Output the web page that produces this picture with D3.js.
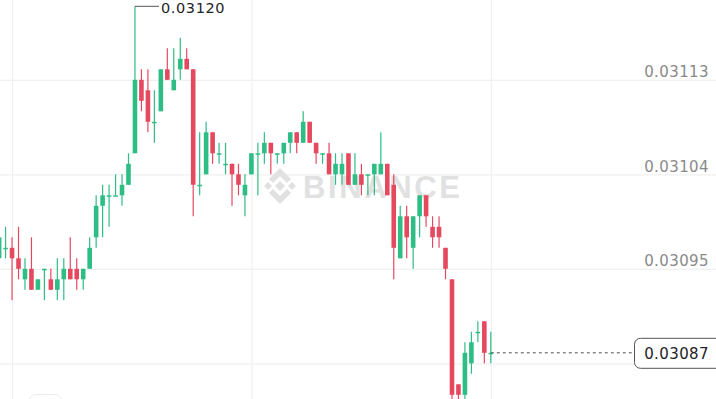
<!DOCTYPE html>
<html>
<head>
<meta charset="utf-8">
<script src="https://cdn.jsdelivr.net/npm/d3@7/dist/d3.min.js"></script>
<style>
  html, body { margin: 0; padding: 0; background: #ffffff; overflow: hidden; }
  svg { display: block; }
</style>
</head>
<body>
<svg id="chart" width="716" height="399"></svg>
<script>
// ---- data (prices) ----
const openP  = [0.03096,0.03097,0.03097,0.03096,0.03094,0.03095,0.03093,0.03095,0.03094,0.03093,
                0.03094,0.03095,0.03095,0.03094,0.03095,0.03098,0.03101,0.03102,0.03102,0.03102,
                0.03103,0.03106,0.03113,0.03112,0.03109,0.03110,0.03114,0.03112,0.03114,0.03115,
                0.03114,0.03103,0.03104,0.03108,0.03106,0.03105,0.03105,0.03104,0.03102,0.03104,
                0.03106,0.03106,0.03107,0.03106,0.03106,0.03107,0.03108,0.03107,0.03109,0.03107,
                0.03106,0.03106,0.03104,0.03104,0.03106,0.03103,0.03104,0.03104,0.03104,0.03104,
                0.03105,0.03103,0.03096,0.03100,0.03097,0.03100,0.03102,0.03099,0.03099,0.03097,
                0.03094,0.03084,0.03083,0.03086,0.03089,0.03090,0.03087];
const highP  = [0.03102,0.03099,0.03098,0.03099,0.03096,0.03098,0.03094,0.03095,0.03095,0.03096,
                0.03096,0.03098,0.03096,0.03095,0.03098,0.03102,0.03103,0.03103,0.03104,0.03104,
                0.03106,0.03120,0.03114,0.03114,0.03112,0.03114,0.03116,0.03116,0.03117,0.03116,
                0.03114,0.03108,0.03109,0.03108,0.03107,0.03107,0.03105,0.03105,0.03104,0.03106,
                0.03107,0.03108,0.03107,0.03106,0.03107,0.03108,0.03108,0.03110,0.03109,0.03107,
                0.03106,0.03107,0.03106,0.03106,0.03106,0.03106,0.03105,0.03104,0.03105,0.03108,
                0.03105,0.03104,0.03101,0.03101,0.03100,0.03102,0.03102,0.03100,0.03100,0.03097,
                0.03094,0.03084,0.03088,0.03089,0.03090,0.03090,0.03089];
const lowP   = [0.03096,0.03096,0.03092,0.03094,0.03093,0.03093,0.03093,0.03092,0.03093,0.03092,
                0.03092,0.03094,0.03093,0.03093,0.03095,0.03097,0.03098,0.03099,0.03102,0.03101,
                0.03103,0.03106,0.03110,0.03108,0.03107,0.03110,0.03113,0.03112,0.03113,0.03114,
                0.03100,0.03102,0.03104,0.03105,0.03105,0.03104,0.03101,0.03102,0.03100,0.03104,
                0.03102,0.03105,0.03104,0.03105,0.03105,0.03106,0.03106,0.03107,0.03107,0.03105,
                0.03105,0.03104,0.03103,0.03103,0.03103,0.03103,0.03102,0.03102,0.03102,0.03104,
                0.03102,0.03094,0.03096,0.03096,0.03095,0.03098,0.03099,0.03097,0.03097,0.03094,
                0.03082,0.03082,0.03082,0.03085,0.03088,0.03086,0.03086];
const closeP = [0.03098,0.03097,0.03096,0.03095,0.03095,0.03093,0.03094,0.03095,0.03093,0.03094,
                0.03095,0.03094,0.03094,0.03095,0.03097,0.03101,0.03102,0.03102,0.03102,0.03103,
                0.03105,0.03113,0.03111,0.03109,0.03109,0.03114,0.03113,0.03113,0.03115,0.03114,
                0.03103,0.03103,0.03108,0.03106,0.03106,0.03105,0.03104,0.03103,0.03103,0.03106,
                0.03106,0.03107,0.03106,0.03106,0.03107,0.03108,0.03107,0.03109,0.03107,0.03106,
                0.03106,0.03104,0.03105,0.03105,0.03103,0.03104,0.03103,0.03104,0.03105,0.03105,
                0.03102,0.03097,0.03100,0.03098,0.03100,0.03102,0.03100,0.03098,0.03098,0.03095,
                0.03083,0.03083,0.03087,0.03088,0.03089,0.03087,0.03087];
const priceTicks = [0.03086, 0.03095, 0.03104, 0.03113];
const timeGridIdx = [2, 39, 76];
const watermarkText = "BINANCE";

const W = 716, H = 399;
const UP = "#2ebd85", DOWN = "#e5495f";
const candles = openP.map((o, i) => ({ i, o, h: highP[i], l: lowP[i], c: closeP[i] }));
const last = candles[candles.length - 1];

const svg = d3.select("#chart");
const x = d3.scaleLinear().domain([0, candles.length - 1]).range([-0.9, 490.8]);
const y = d3.scaleLinear().domain([0.030826, 0.031206]).range([H, 0]);

// horizontal gridlines
svg.append("g").attr("class", "hgrid")
  .call(d3.axisRight(y).tickValues(priceTicks).tickSize(W).tickFormat(""))
  .call(g => g.select(".domain").remove())
  .call(g => g.selectAll("line").attr("stroke", "#f0f0f0").attr("stroke-width", 1.2));

// vertical gridlines
svg.append("g").attr("class", "vgrid")
  .call(d3.axisBottom(x).tickValues(timeGridIdx).tickSize(H).tickFormat(""))
  .call(g => g.select(".domain").remove())
  .call(g => g.selectAll("line").attr("stroke", "#f0f0f0").attr("stroke-width", 1.2));

// watermark
const wm = svg.append("g").attr("class", "watermark").attr("fill", "#e1e1e1");
const lx = 280, ly = 186;
const diamond = (cx, cy, r) => `M${cx},${cy - r}L${cx + r},${cy}L${cx},${cy + r}L${cx - r},${cy}Z`;
wm.append("path").attr("d", diamond(lx, ly, 5));
wm.append("path").attr("d", diamond(lx - 12, ly, 4));
wm.append("path").attr("d", diamond(lx + 12, ly, 4));
wm.append("path").attr("d",
  `M${lx},${ly - 18}L${lx + 11},${ly - 7}L${lx + 7},${ly - 3}L${lx},${ly - 10}L${lx - 7},${ly - 3}L${lx - 11},${ly - 7}Z`);
wm.append("path").attr("d",
  `M${lx},${ly + 18}L${lx + 11},${ly + 7}L${lx + 7},${ly + 3}L${lx},${ly + 10}L${lx - 7},${ly + 3}L${lx - 11},${ly + 7}Z`);
wm.append("text").text(watermarkText)
  .attr("x", 303).attr("y", 198)
  .attr("font-family", "'Liberation Sans', Arial, sans-serif")
  .attr("font-weight", "bold").attr("font-size", 31)
  .attr("letter-spacing", 2.6);

// candles
const cg = svg.append("g").attr("class", "candles");
const bw = 4.6;
const cand = cg.selectAll("g").data(candles).join("g")
  .attr("fill", d => d.c >= d.o ? UP : DOWN)
  .attr("stroke", d => d.c >= d.o ? UP : DOWN);
cand.append("line")
  .attr("x1", d => x(d.i)).attr("x2", d => x(d.i))
  .attr("y1", d => y(d.h)).attr("y2", d => y(d.l))
  .attr("stroke-width", 1.2);
cand.append("rect")
  .attr("x", d => x(d.i) - bw / 2)
  .attr("width", bw)
  .attr("y", d => Math.min(y(d.o), y(d.c)))
  .attr("height", d => Math.max(1.5, Math.abs(y(d.o) - y(d.c))))
  .attr("stroke", "none");

// high marker
const hi = candles.reduce((a, b) => (b.h > a.h ? b : a));
svg.append("line")
  .attr("x1", x(hi.i)).attr("x2", x(hi.i) + 24)
  .attr("y1", y(hi.h)).attr("y2", y(hi.h))
  .attr("stroke", "#555").attr("stroke-width", 1);
svg.append("text").text(d3.format(".5f")(hi.h))
  .attr("x", x(hi.i) + 26).attr("y", y(hi.h) + 6.5)
  .attr("font-family", "'DejaVu Sans', sans-serif").attr("font-size", 14.5)
  .attr("letter-spacing", 0.6)
  .attr("fill", "#1e2329");

// price labels (the one hidden by the current-price box is omitted)
const boxTop = y(last.c) - 15, boxBot = y(last.c) + 16;
svg.append("g").attr("class", "ylabels")
  .attr("transform", `translate(${709},0)`)
  .call(d3.axisLeft(y).tickValues(priceTicks.filter(t => y(t) - 8 < boxTop || y(t) - 8 > boxBot))
    .tickSize(0).tickFormat(d3.format(".5f")))
  .call(g => g.select(".domain").remove())
  .call(g => g.selectAll("text")
    .attr("dy", -3).attr("x", 0)
    .attr("font-family", "'DejaVu Sans', sans-serif").attr("font-size", 15)
    .attr("letter-spacing", 0.4)
    .attr("fill", "#8a8a8a"));

// current price line and label
svg.append("line")
  .attr("x1", x(last.i)).attr("x2", 634)
  .attr("y1", y(last.c)).attr("y2", y(last.c))
  .attr("stroke", "#555").attr("stroke-width", 1).attr("stroke-dasharray", "3,3");
svg.append("rect")
  .attr("x", 634.5).attr("y", y(last.c) - 14.5).attr("width", 90).attr("height", 30).attr("rx", 6)
  .attr("fill", "#fff").attr("stroke", "#555").attr("stroke-width", 1);
svg.append("text").text(d3.format(".5f")(last.c))
  .attr("x", 709).attr("y", y(last.c) + 6).attr("text-anchor", "end")
  .attr("font-family", "'DejaVu Sans', sans-serif").attr("font-size", 15)
  .attr("letter-spacing", 0.4)
  .attr("fill", "#1e2329");

// faint button outline at bottom-left
svg.append("rect").attr("x", 28.5).attr("y", 394.5).attr("width", 34).attr("height", 20).attr("rx", 8)
  .attr("fill", "none").attr("stroke", "#ececec");
</script>
</body>
</html>
